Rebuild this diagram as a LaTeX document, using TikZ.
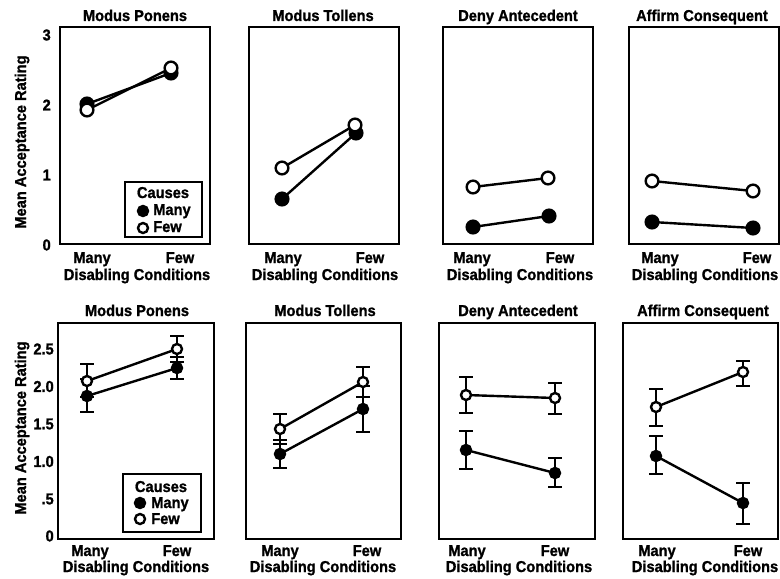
\documentclass[tikz,border=0pt]{standalone}
\usepackage{fontspec}
\setmainfont{Liberation Sans}[FakeStretch=0.93,BoldFeatures={FakeBold=1.2,FakeStretch=0.93}]
\pgfdeclarelayer{bg}
\pgfsetlayers{bg,main}
% vertical error bar with caps: x, top y, bottom y
\newcommand\errbar[3]{\draw[bar] (#1-7,#2) -- (#1+7,#2) (#1,#2) -- (#1,#3) (#1-7,#3) -- (#1+7,#3);}
\begin{document}
\begin{tikzpicture}[x=0.75pt,y=-0.75pt,
  font=\fontsize{11.8}{13}\selectfont\bfseries,
  frame/.style={draw,line width=1.8pt},
  legframe/.style={draw,line width=1.5pt},
  conn/.style={line width=1.8pt},
  bar/.style={line width=1.8pt},
  bigfill/.style={circle,draw,line width=1.8pt,fill=black,inner sep=0pt,minimum size=9.5pt},
  bigopen/.style={bigfill,fill=white},
  smallfill/.style={circle,draw,line width=1.8pt,fill=black,inner sep=0pt,minimum size=7.5pt},
  smallopen/.style={smallfill,fill=white},
  txt/.style={inner sep=0pt,anchor=base},
  tick/.style={inner sep=0pt,anchor=east},
  ytitle/.style={inner sep=0pt,anchor=base,rotate=90},
]
\useasboundingbox (0,0) rectangle (780,578);

% ---------------- top row: means only ----------------
\node[frame,inner sep=0pt,minimum width=150*0.75pt,minimum height=217*0.75pt,anchor=north west] (A1) at (59,26) {};
\node[frame,inner sep=0pt,minimum width=150*0.75pt,minimum height=217*0.75pt,anchor=north west] (A2) at (248,26) {};
\node[frame,inner sep=0pt,minimum width=150*0.75pt,minimum height=217*0.75pt,anchor=north west] (A3) at (442,26) {};
\node[frame,inner sep=0pt,minimum width=150*0.75pt,minimum height=217*0.75pt,anchor=north west] (A4) at (628,26) {};

\node[txt] (ta1) at (135,21) {Modus Ponens};
\node[txt] (ta2) at (323,21) {Modus Tollens};
\node[txt] (ta3) at (518,21) {Deny Antecedent};
\node[txt] (ta4) at (702,21) {Affirm Consequent};

\node[ytitle] (ya) at (26,142) {Mean Acceptance Rating};
\node[tick] (ya3) at (51,35) {3};
\node[tick] (ya2) at (51,105) {2};
\node[tick] (ya1) at (51,175) {1};
\node[tick] (ya0) at (51,245) {0};

\node[txt] (ma1) at (92,263) {Many};  \node[txt] (fa1) at (180,263) {Few};
\node[txt] (ma2) at (283,263) {Many}; \node[txt] (fa2) at (370,263) {Few};
\node[txt] (ma3) at (472,263) {Many}; \node[txt] (fa3) at (560,263) {Few};
\node[txt] (ma4) at (660,263) {Many}; \node[txt] (fa4) at (757,263) {Few};
\node[txt] (da1) at (137,280) {Disabling Conditions};
\node[txt] (da2) at (325,280) {Disabling Conditions};
\node[txt] (da3) at (520,280) {Disabling Conditions};
\node[txt] (da4) at (705,280) {Disabling Conditions};

% markers: filled = many causes, open = few causes
\node[bigfill] (af1m) at (87,104) {};  \node[bigfill] (af1f) at (171,73) {};
\node[bigopen] (ao1m) at (87,110) {};  \node[bigopen] (ao1f) at (171,68) {};
\node[bigfill] (af2m) at (282,199) {}; \node[bigfill] (af2f) at (356,133) {};
\node[bigopen] (ao2m) at (282,168) {}; \node[bigopen] (ao2f) at (355,125) {};
\node[bigfill] (af3m) at (473,227) {}; \node[bigfill] (af3f) at (549,216) {};
\node[bigopen] (ao3m) at (473,187) {}; \node[bigopen] (ao3f) at (548,178) {};
\node[bigfill] (af4m) at (652,222) {}; \node[bigfill] (af4f) at (753,228) {};
\node[bigopen] (ao4m) at (652,181) {}; \node[bigopen] (ao4f) at (753,191) {};

\begin{pgfonlayer}{bg}
  \draw[conn] (af1m.center) -- (af1f.center);
  \draw[conn] (ao1m.center) -- (ao1f.center);
  \draw[conn] (af2m.center) -- (af2f.center);
  \draw[conn] (ao2m.center) -- (ao2f.center);
  \draw[conn] (af3m.center) -- (af3f.center);
  \draw[conn] (ao3m.center) -- (ao3f.center);
  \draw[conn] (af4m.center) -- (af4f.center);
  \draw[conn] (ao4m.center) -- (ao4f.center);
\end{pgfonlayer}

% legend
\node[legframe,inner sep=0pt,minimum width=77*0.75pt,minimum height=55*0.75pt,anchor=north west] (LA) at (124,181) {};
\node[txt] (lac) at (163,198) {Causes};
\node[smallfill] (lafm) at (143,211) {};
\node[smallopen] (laom) at (143,228) {};
\node[txt,anchor=base west] (lam) at (153,215) {Many};
\node[txt,anchor=base west] (laf) at (153,232) {Few};

% ---------------- bottom row: means with error bars ----------------
\node[frame,inner sep=0pt,minimum width=156*0.75pt,minimum height=216*0.75pt,anchor=north west] (B1) at (57,322) {};
\node[frame,inner sep=0pt,minimum width=155*0.75pt,minimum height=216*0.75pt,anchor=north west] (B2) at (245,322) {};
\node[frame,inner sep=0pt,minimum width=156*0.75pt,minimum height=216*0.75pt,anchor=north west] (B3) at (438,322) {};
\node[frame,inner sep=0pt,minimum width=155*0.75pt,minimum height=216*0.75pt,anchor=north west] (B4) at (622,322) {};

\node[txt] (tb1) at (137,316) {Modus Ponens};
\node[txt] (tb2) at (325,316) {Modus Tollens};
\node[txt] (tb3) at (518,316) {Deny Antecedent};
\node[txt] (tb4) at (703,316) {Affirm Consequent};

\node[ytitle] (yb) at (26,428) {Mean Acceptance Rating};
\node[tick] (yb25) at (54,349) {2.5};
\node[tick] (yb20) at (54,386.5) {2.0};
\node[tick] (yb15) at (54,424) {1.5};
\node[tick] (yb10) at (54,461.5) {1.0};
\node[tick] (yb05) at (54,499) {.5};
\node[tick] (yb00) at (54,536) {0};

\node[txt] (mb1) at (90,556) {Many};  \node[txt] (fb1) at (177,556) {Few};
\node[txt] (mb2) at (280,556) {Many}; \node[txt] (fb2) at (367,556) {Few};
\node[txt] (mb3) at (467,556) {Many}; \node[txt] (fb3) at (555,556) {Few};
\node[txt] (mb4) at (657,556) {Many}; \node[txt] (fb4) at (748,556) {Few};
\node[txt] (db1) at (136,572) {Disabling Conditions};
\node[txt] (db2) at (323,572) {Disabling Conditions};
\node[txt] (db3) at (519,572) {Disabling Conditions};
\node[txt] (db4) at (705,572) {Disabling Conditions};

\begin{pgfonlayer}{bg}
  % Modus Ponens
  \errbar{87}{379}{412} \errbar{177}{357}{379}
  \errbar{87}{364}{397} \errbar{177}{336}{362}
  % Modus Tollens
  \errbar{280}{440}{468} \errbar{363}{386}{432}
  \errbar{280}{414}{444} \errbar{363}{367}{397}
  % Deny Antecedent
  \errbar{466}{431}{469} \errbar{555}{458}{487}
  \errbar{466}{377}{413} \errbar{555}{383}{414}
  % Affirm Consequent
  \errbar{656}{436}{474} \errbar{743}{483}{524}
  \errbar{656}{389}{426} \errbar{743}{361}{386}
\end{pgfonlayer}

\node[smallfill] (bf1m) at (87,396) {};  \node[smallfill] (bf1f) at (177,368) {};
\node[smallopen] (bo1m) at (87,381) {};  \node[smallopen] (bo1f) at (177,349) {};
\node[smallfill] (bf2m) at (280,454) {}; \node[smallfill] (bf2f) at (363,409) {};
\node[smallopen] (bo2m) at (280,429) {}; \node[smallopen] (bo2f) at (363,382) {};
\node[smallfill] (bf3m) at (466,450) {}; \node[smallfill] (bf3f) at (555,473) {};
\node[smallopen] (bo3m) at (466,395) {}; \node[smallopen] (bo3f) at (555,398) {};
\node[smallfill] (bf4m) at (656,456) {}; \node[smallfill] (bf4f) at (743,503) {};
\node[smallopen] (bo4m) at (656,407) {}; \node[smallopen] (bo4f) at (743,372) {};

\begin{pgfonlayer}{bg}
  \draw[conn] (bf1m.center) -- (bf1f.center);
  \draw[conn] (bo1m.center) -- (bo1f.center);
  \draw[conn] (bf2m.center) -- (bf2f.center);
  \draw[conn] (bo2m.center) -- (bo2f.center);
  \draw[conn] (bf3m.center) -- (bf3f.center);
  \draw[conn] (bo3m.center) -- (bo3f.center);
  \draw[conn] (bf4m.center) -- (bf4f.center);
  \draw[conn] (bo4m.center) -- (bo4f.center);
\end{pgfonlayer}

% legend
\node[legframe,inner sep=0pt,minimum width=78*0.75pt,minimum height=58*0.75pt,anchor=north west] (LB) at (122,473) {};
\node[txt] (lbc) at (161,492) {Causes};
\node[smallfill] (lbfm) at (140,503) {};
\node[smallopen] (lbom) at (140,519) {};
\node[txt,anchor=base west] (lbm) at (151,508) {Many};
\node[txt,anchor=base west] (lbf) at (151,524) {Few};
\end{tikzpicture}
\end{document}
